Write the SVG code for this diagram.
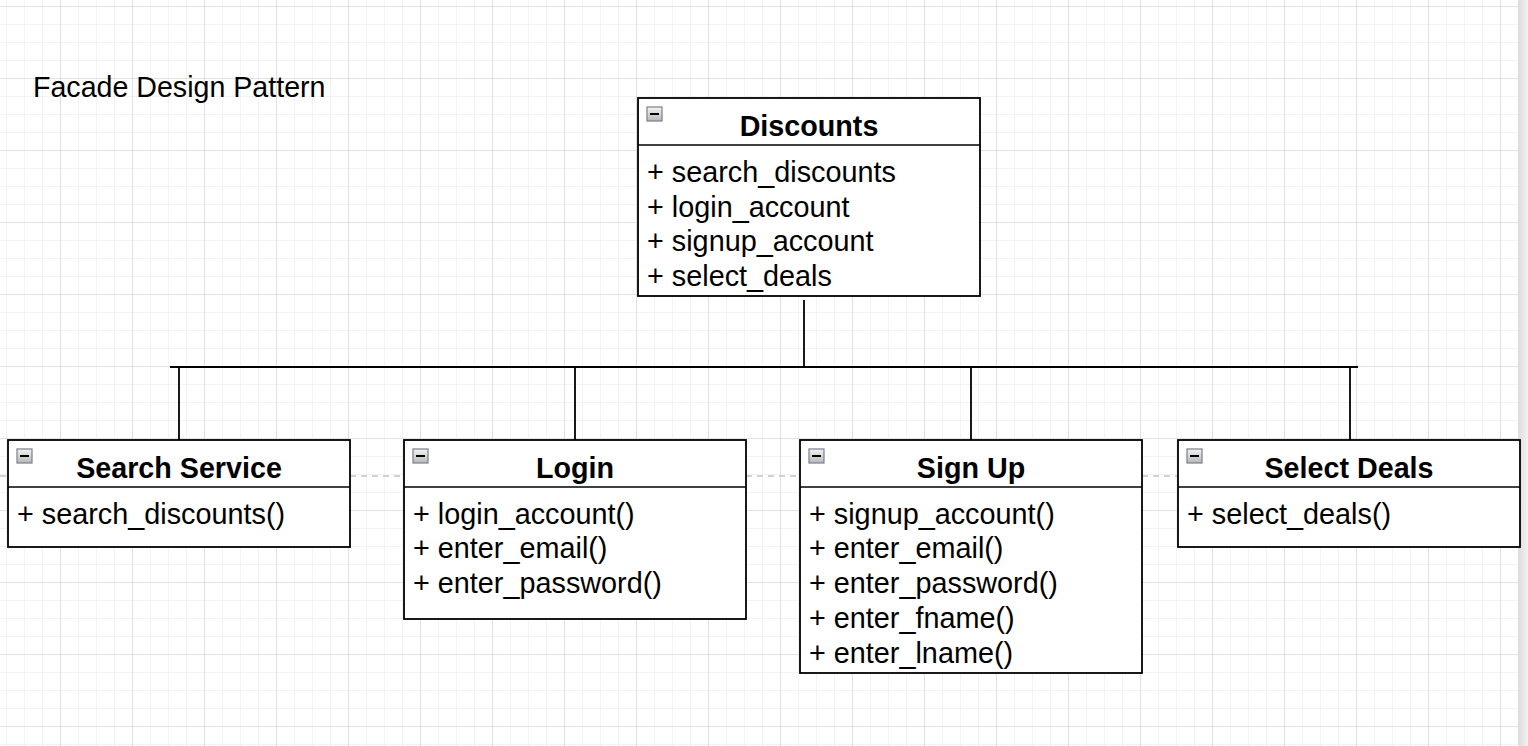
<svg xmlns="http://www.w3.org/2000/svg" width="1528" height="746" viewBox="0 0 1528 746">
  <defs>
    <pattern id="minor" patternUnits="userSpaceOnUse" x="6" y="6" width="18" height="18">
      <path d="M0 0H18M0 0V18" fill="none" stroke="#efefef" stroke-width="1.5"/>
    </pattern>
    <pattern id="major" patternUnits="userSpaceOnUse" x="60" y="6" width="72" height="72">
      <path d="M0 0H72M0 0V72" fill="none" stroke="#d4d4d4" stroke-width="1.2"/>
    </pattern>
    <linearGradient id="iconGrad" x1="0" y1="0" x2="0" y2="1">
      <stop offset="0" stop-color="#f4f4f4"/>
      <stop offset="1" stop-color="#b8b8b8"/>
    </linearGradient>
    <linearGradient id="shadow" x1="0" y1="0" x2="1" y2="0">
      <stop offset="0" stop-color="#dcdcdc"/>
      <stop offset="1" stop-color="#f2f2f2"/>
    </linearGradient>
  </defs>
  <style>
    .box { fill: #ffffff; stroke: #000000; stroke-width: 1.8; }
    .div { stroke: #000000; stroke-width: 1.5; }
    .title { font-family: "Liberation Sans", Arial, sans-serif; font-size: 28.7px; font-weight: bold; text-anchor: middle; fill: #000; }
    .item { font-family: "Liberation Sans", Arial, sans-serif; font-size: 28.8px; fill: #000; }
    .heading { font-family: "Liberation Sans", Arial, sans-serif; font-size: 28.6px; fill: #000; }
    .icon { fill: url(#iconGrad); stroke: #7a7f8a; stroke-width: 1.2; }
    .minus { stroke: #000; stroke-width: 2; }
    .conn { fill: none; stroke: #000; stroke-width: 1.8; }
    .guide { fill: none; stroke: #c4c4c4; stroke-width: 1.5; stroke-dasharray: 6 5; }
  </style>

  <rect x="0" y="0" width="1528" height="746" fill="#ffffff"/>
  <rect x="0" y="0" width="1518" height="746" fill="url(#minor)"/>
  <rect x="0" y="0" width="1518" height="746" fill="url(#major)"/>
  <rect x="1518" y="0" width="10" height="746" fill="url(#shadow)"/>

  <text class="heading" x="33" y="97">Facade Design Pattern</text>

  <g id="guides">
    <path class="guide" d="M0 476H8M350 476H404M746 476H800M1142 476H1178"/>
  </g>

  <g id="connectors">
    <path class="conn" d="M804 300V367"/>
    <path class="conn" d="M170 367H1358"/>
    <path class="conn" d="M179 367V440M575 367V440M971 367V440M1350 367V440"/>
  </g>

  <g id="discounts">
    <rect class="box" x="638" y="98" width="342" height="198"/>
    <line class="div" x1="638" y1="145" x2="980" y2="145"/>
    <rect class="icon" x="647" y="107" width="15" height="14"/>
    <line class="minus" x1="650" y1="114" x2="659" y2="114"/>
    <text class="title" x="809" y="136">Discounts</text>
    <text class="item" x="647" y="182">+ search_discounts</text>
    <text class="item" x="647" y="217">+ login_account</text>
    <text class="item" x="647" y="251">+ signup_account</text>
    <text class="item" x="647" y="286">+ select_deals</text>
  </g>

  <g id="search-service">
    <rect class="box" x="8" y="440" width="342" height="107"/>
    <line class="div" x1="8" y1="487" x2="350" y2="487"/>
    <rect class="icon" x="17" y="449" width="15" height="14"/>
    <line class="minus" x1="20" y1="456" x2="29" y2="456"/>
    <text class="title" x="179" y="478">Search Service</text>
    <text class="item" x="17" y="524">+ search_discounts()</text>
  </g>

  <g id="login">
    <rect class="box" x="404" y="440" width="342" height="179"/>
    <line class="div" x1="404" y1="487" x2="746" y2="487"/>
    <rect class="icon" x="413" y="449" width="15" height="14"/>
    <line class="minus" x1="416" y1="456" x2="425" y2="456"/>
    <text class="title" x="575" y="478">Login</text>
    <text class="item" x="413" y="524">+ login_account()</text>
    <text class="item" x="413" y="558">+ enter_email()</text>
    <text class="item" x="413" y="593">+ enter_password()</text>
  </g>

  <g id="sign-up">
    <rect class="box" x="800" y="440" width="342" height="233"/>
    <line class="div" x1="800" y1="487" x2="1142" y2="487"/>
    <rect class="icon" x="809" y="449" width="15" height="14"/>
    <line class="minus" x1="812" y1="456" x2="821" y2="456"/>
    <text class="title" x="971" y="478">Sign Up</text>
    <text class="item" x="809" y="524">+ signup_account()</text>
    <text class="item" x="809" y="558">+ enter_email()</text>
    <text class="item" x="809" y="593">+ enter_password()</text>
    <text class="item" x="809" y="628">+ enter_fname()</text>
    <text class="item" x="809" y="663">+ enter_lname()</text>
  </g>

  <g id="select-deals">
    <rect class="box" x="1178" y="440" width="342" height="107"/>
    <line class="div" x1="1178" y1="487" x2="1520" y2="487"/>
    <rect class="icon" x="1187" y="449" width="15" height="14"/>
    <line class="minus" x1="1190" y1="456" x2="1199" y2="456"/>
    <text class="title" x="1349" y="478">Select Deals</text>
    <text class="item" x="1187" y="524">+ select_deals()</text>
  </g>
</svg>
